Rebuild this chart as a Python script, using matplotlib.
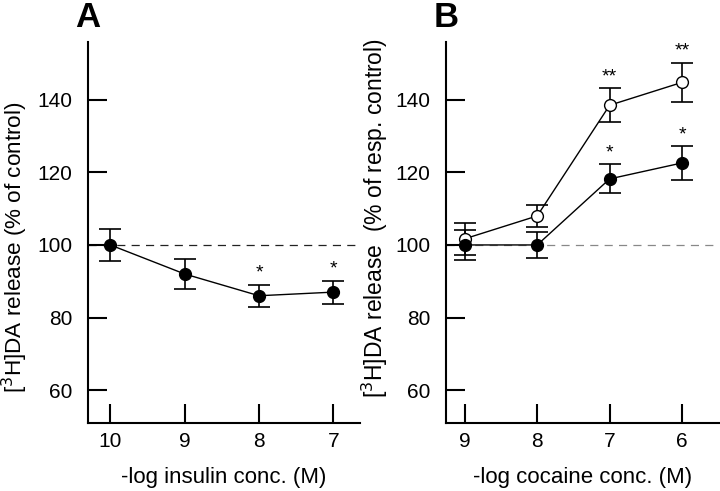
import matplotlib
matplotlib.use("Agg")
import matplotlib.pyplot as plt

plt.rcParams['font.family'] = ['Liberation Sans', 'DejaVu Sans']

# panel A: insulin
ins_x = [10, 9, 8, 7]
ins_y = [100, 92, 86, 87]
ins_err = [4.5, 4.2, 3.0, 3.2]
ins_stars = ['', '', '*', '*']

# panel B: cocaine
coc_x = [9, 8, 7, 6]
coc_closed = [100, 100, 118.2, 122.6]
coc_closed_err = [4.1, 3.5, 4.0, 4.7]
coc_open = [101.7, 108, 138.5, 144.8]
coc_open_err = [4.4, 3.0, 4.7, 5.4]
closed_stars = ['', '', '*', '*']
open_stars = ['', '', '**', '**']

fig = plt.figure(figsize=(7.2, 4.91), dpi=100)
axA = fig.add_axes([0.1222, 0.139, 0.378, 0.776])
axB = fig.add_axes([0.6194, 0.139, 0.3792, 0.776])


def style_axes(ax, xlim, xticks):
    ax.set_ylim(51, 156)
    ax.set_xlim(*xlim)
    ax.set_xticks(xticks)
    ax.set_yticks([60, 80, 100, 120, 140])
    for s in ['top', 'right']:
        ax.spines[s].set_visible(False)
    for s in ['left', 'bottom']:
        ax.spines[s].set_linewidth(1.5)
    ax.tick_params(axis='both', direction='in', length=14, width=1.5,
                   labelsize=15)
    ax.tick_params(axis='x', pad=7)
    ax.tick_params(axis='y', pad=11)


def draw(ax, x, y, err, face):
    ax.errorbar(x, y, yerr=err, fmt='o', color='black', mfc=face,
                mec='black', ms=8.5, lw=1, elinewidth=1.2, capsize=8,
                capthick=1.2, zorder=3)


def stars(ax, x, y, err, marks):
    for xx, yy, e, s in zip(x, y, err, marks):
        if s:
            ax.text(xx, yy + e + 0.8, s, ha='center', va='bottom', fontsize=14)


# A
style_axes(axA, (10.3, 6.64), ins_x)
axA.axhline(100, color='#222222', ls=(0, (6.5, 5)), lw=0.9, zorder=1)
axA.plot(ins_x, ins_y, color='black', lw=1, zorder=2)
draw(axA, ins_x, ins_y, ins_err, 'black')
stars(axA, ins_x, ins_y, ins_err, ins_stars)
axA.set_ylabel('[$^3$H]DA release (% of control)', fontsize=16.2)
axA.yaxis.set_label_coords(-0.212, 0.462)
axA.set_xlabel('-log insulin conc. (M)', fontsize=16, labelpad=11)
fig.text(0.122, 0.965, 'A', fontsize=25, fontweight='bold', ha='center', va='center')

# B
style_axes(axB, (9.26, 5.49), coc_x)
axB.axhline(100, color='#888888', ls=(0, (6.5, 5)), lw=0.9, zorder=1)
axB.plot(coc_x, coc_closed, color='black', lw=1, zorder=2)
axB.plot(coc_x, coc_open, color='black', lw=1, zorder=2)
draw(axB, coc_x, coc_open, coc_open_err, 'white')
draw(axB, coc_x, coc_closed, coc_closed_err, 'black')
stars(axB, coc_x, coc_closed, coc_closed_err, closed_stars)
stars(axB, coc_x, coc_open, coc_open_err, open_stars)
axB.set_ylabel('[$^3$H]DA release  (% of resp. control)', fontsize=16.5)
axB.yaxis.set_label_coords(-0.205, 0.538)
axB.set_xlabel('-log cocaine conc. (M)', fontsize=16, labelpad=11)
fig.text(0.62, 0.965, 'B', fontsize=25, fontweight='bold', ha='center', va='center')

fig.savefig('out.png', dpi=100)
